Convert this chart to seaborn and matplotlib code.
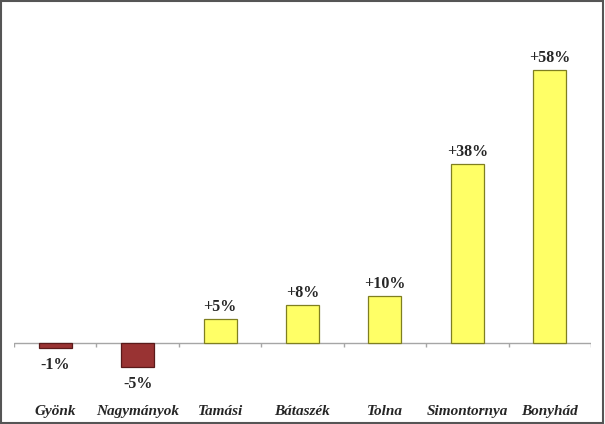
import numpy as np
import matplotlib
matplotlib.use('Agg')
import matplotlib.pyplot as plt
import seaborn as sns
from matplotlib.patches import Rectangle

# Data
towns = ['Gyönk', 'Nagymányok', 'Tamási', 'Bátaszék', 'Tolna', 'Simontornya', 'Bonyhád']
change = [-1, -5, 5, 8, 10, 38, 58]
labels = ['-1%', '-5%', '+5%', '+8%', '+10%', '+38%', '+58%']

sns.set_style('white')
plt.rcParams['font.family'] = ['Liberation Serif', 'DejaVu Serif']

fig = plt.figure(figsize=(6.05, 4.24), dpi=100)
ax = fig.add_axes([14 / 605, 29 / 424, 577 / 605, 380 / 424])

fills = ['#993333' if v < 0 else '#FFFF66' for v in change]
edges = ['#5a1a1a' if v < 0 else '#7f7f20' for v in change]
sns.barplot(x=towns, y=change, hue=towns, palette=fills, legend=False,
            width=0.4, ax=ax, saturation=1)
for p, ec in zip(ax.patches, edges):
    p.set_edgecolor(ec)
    p.set_linewidth(0.9)

ax.set_xlim(-0.5, len(towns) - 0.5)
ax.set_ylim(-11.04, 69.64)

# zero axis line and category boundary ticks
ax.axhline(0, color='#a6a6a6', lw=1, zorder=0)
bounds = np.arange(len(towns) + 1) - 0.5
ax.vlines(bounds, -0.9, 0, color='#a6a6a6', lw=1, zorder=0)

for i, (v, t) in enumerate(zip(change, labels)):
    if v >= 0:
        ax.annotate(t, (i, v), xytext=(0, 3), textcoords='offset points',
                    ha='center', va='bottom', fontsize=11.5, fontweight='bold')
    else:
        ax.annotate(t, (i, v), xytext=(0, -6.5), textcoords='offset points',
                    ha='center', va='top', fontsize=11.5, fontweight='bold')

ax.set_yticks([])
ax.set_ylabel('')
ax.set_xlabel('')
ax.tick_params(axis='x', length=0, pad=7)
for lab in ax.get_xticklabels():
    lab.set_fontsize(11)
    lab.set_fontweight('bold')
    lab.set_fontstyle('italic')
for s in ax.spines.values():
    s.set_visible(False)

fig.patches.append(Rectangle((0.002, 0.003), 0.995, 0.994, transform=fig.transFigure,
                             fill=False, edgecolor='#555555', lw=1.5))

fig.savefig('out.png', dpi=100)
